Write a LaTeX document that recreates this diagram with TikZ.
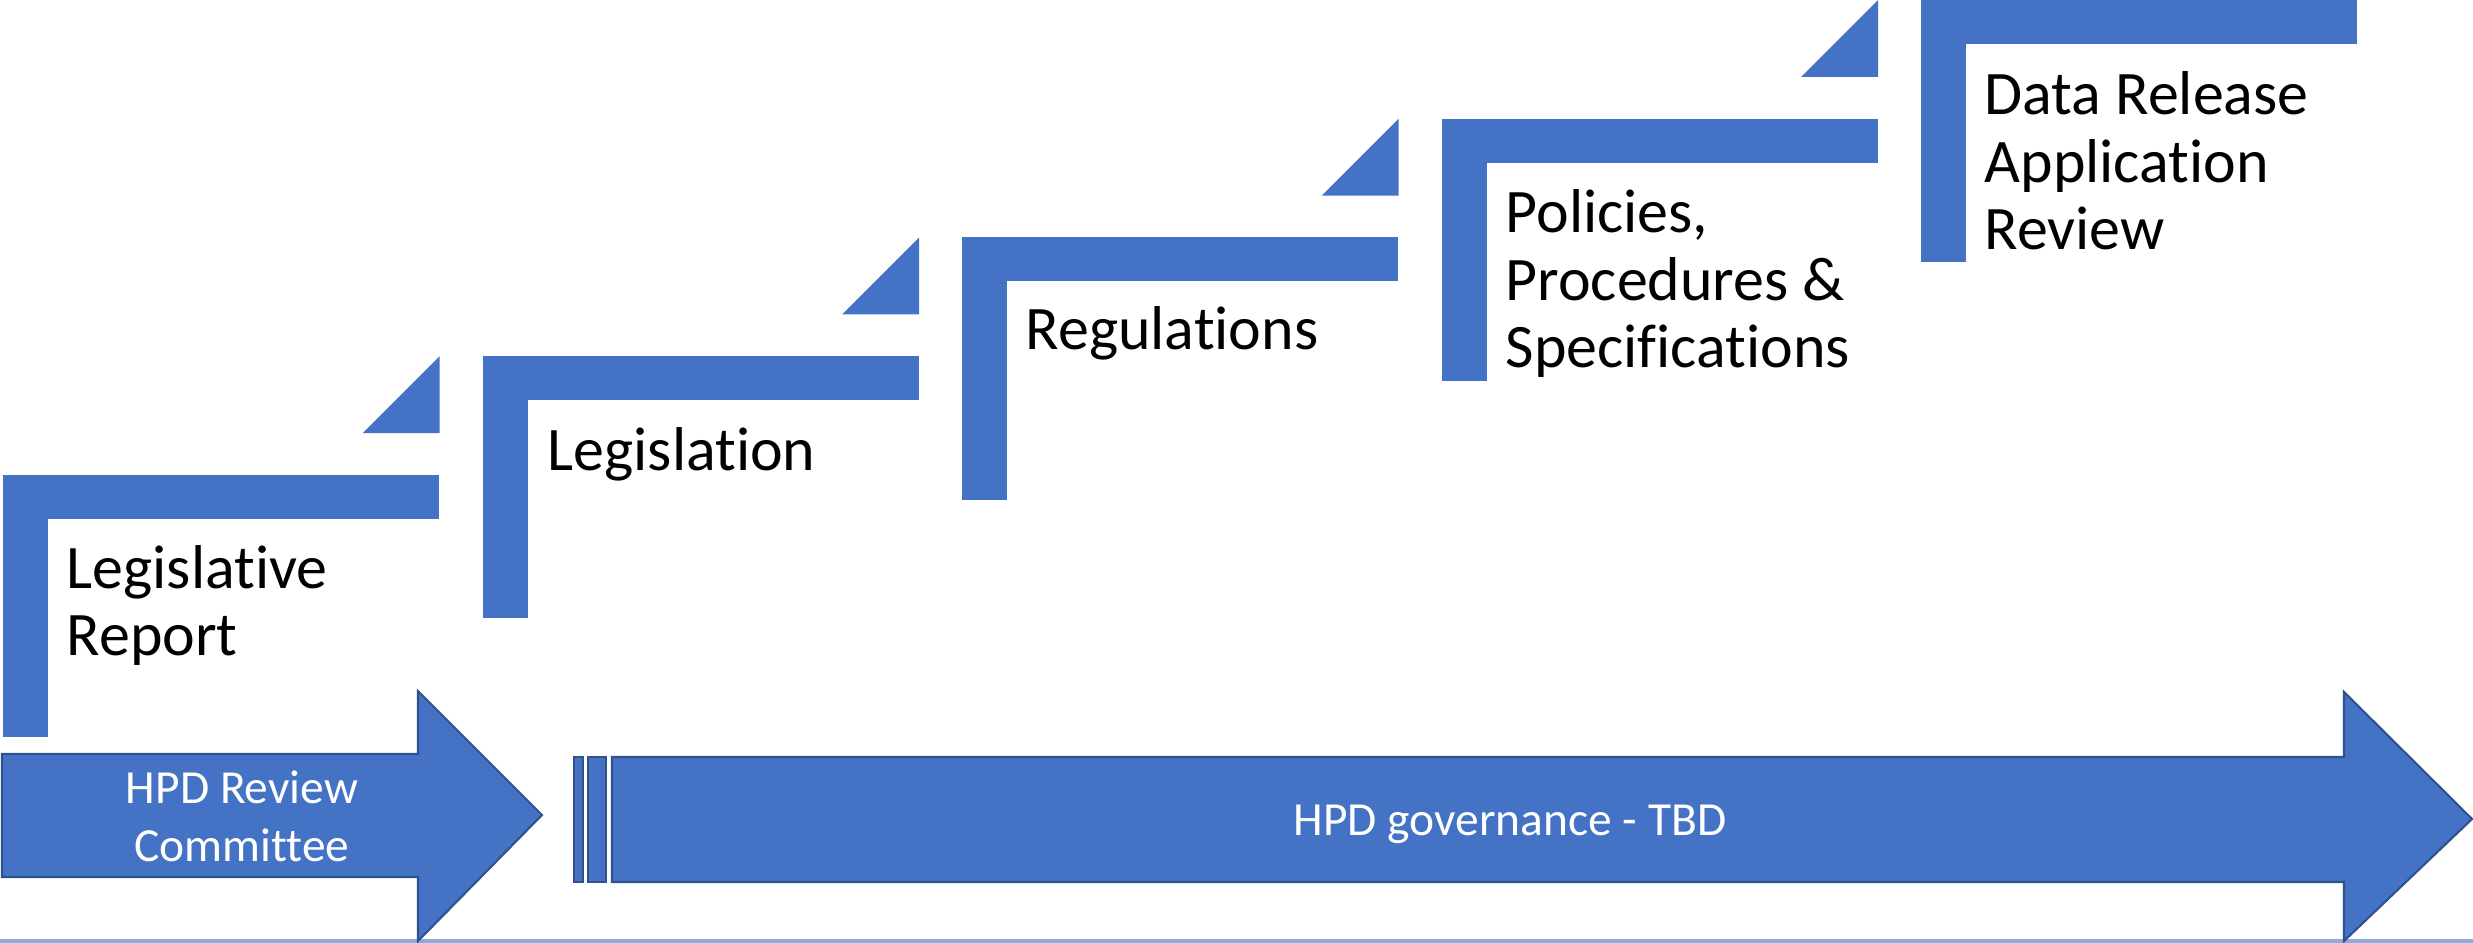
\documentclass[tikz,border=0pt]{standalone}
\usepackage{fontspec}
\setmainfont[Ligatures=CommonOff]{Carlito}
\definecolor{stepblue}{HTML}{4472C4}
\definecolor{edgeblue}{HTML}{2F528F}
\definecolor{lineblue}{HTML}{8FAADC}
\newcommand\steptextL[1]{\begin{tabular}[t]{@{}l@{}}#1\end{tabular}}
\newcommand\steptextC[1]{\begin{tabular}[t]{@{}c@{}}#1\end{tabular}}
\tikzset{
  stepfill/.style={fill=stepblue},
  arrowshape/.style={fill=stepblue, draw=edgeblue, line width=0.6pt, line join=miter},
  steplabel/.style={anchor=base west, inner sep=0pt, text=black, font=\fontsize{17.6}{19.1}\selectfont},
  arrowlabel/.style={anchor=base, inner sep=0pt, text=white, font=\fontsize{13.5}{16.5}\selectfont}
}
\begin{document}
\begin{tikzpicture}[x=0.01cm,y=-0.01cm]
\useasboundingbox (0,0) rectangle (2473,943);
% bottom light line
\fill[lineblue] (0,939) rectangle (2473,943);
% steps
\foreach \i in {0,...,4}{
  \pgfmathsetmacro\xo{3+479.5*\i}
  \pgfmathsetmacro\yt{475-118.75*\i}
  \fill[stepfill] (\xo,\yt) rectangle ({\xo+436},{\yt+44});
  \fill[stepfill] (\xo,\yt) rectangle ({\xo+45},{\yt+262});
}
\foreach \i in {1,...,4}{
  \pgfmathsetmacro\xo{3+479.5*\i}
  \pgfmathsetmacro\yt{475-118.75*\i}
  \fill[stepfill] ({\xo-120},{\yt+77}) -- ({\xo-43},\yt) -- ({\xo-43},{\yt+77}) -- cycle;
}
% arrow 1
\draw[arrowshape] (2,754) -- (418,754) -- (418,691) -- (542,815) -- (418,941) -- (418,877) -- (2,877) -- cycle;
% arrow 2 with bars
\draw[arrowshape] (574,757) rectangle (583,882);
\draw[arrowshape] (588,757) rectangle (606,882);
\draw[arrowshape] (612,757) -- (2344,757) -- (2344,692) -- (2472,819) -- (2344,941) -- (2344,882) -- (612,882) -- cycle;
% labels
\node[steplabel] (l1) at (66,588) {\steptextL{Legislative\\Report}};
\node[steplabel] (l2) at (547,470) {\steptextL{Legislation}};
\node[steplabel] (l3) at (1025,350) {\steptextL{Regulations}};
\node[steplabel] (l4) at (1505,233) {\steptextL{Policies,\\Procedures \&\\Specifications}};
\node[steplabel] (l5) at (1984,115) {\steptextL{Data Release\\Application\\Review}};
\node[arrowlabel] (a1) at (242,803) {\steptextC{HPD Review\\Committee}};
\node[arrowlabel] (a2) at (1510,835) {\steptextC{HPD governance - TBD}};
\end{tikzpicture}
\end{document}
